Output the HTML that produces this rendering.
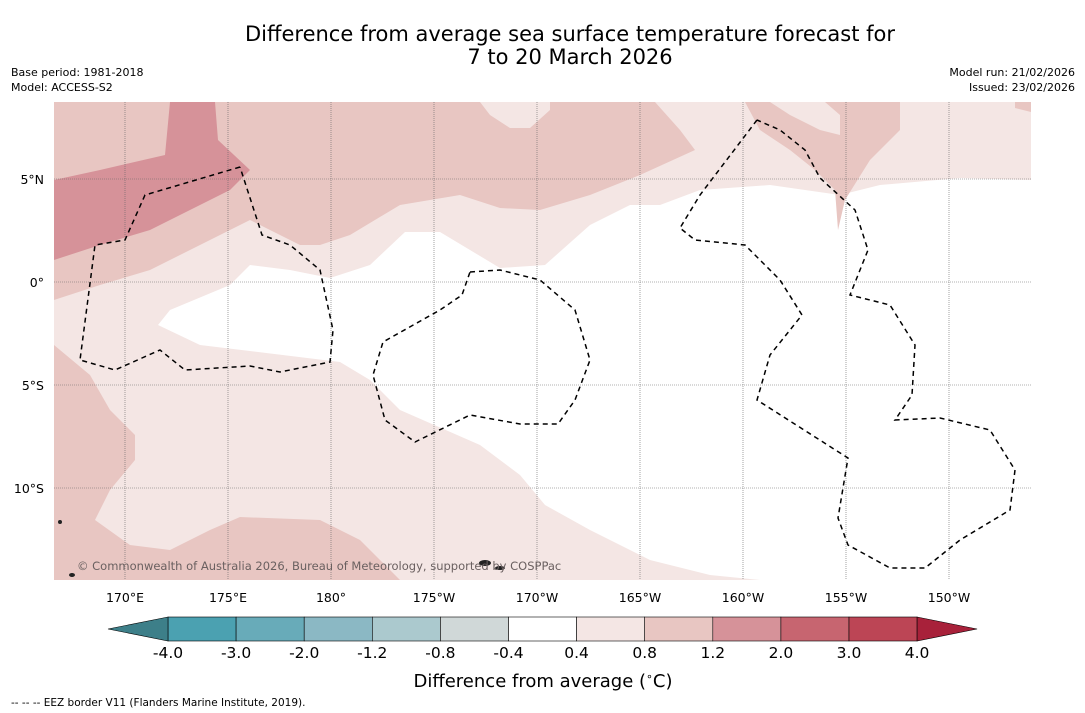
<!DOCTYPE html>
<html><head><meta charset="utf-8"><style>
body{margin:0;background:#fff;width:1085px;height:713px;overflow:hidden;font-family:"DejaVu Sans","Liberation Sans",sans-serif}
svg{position:absolute;left:0;top:0}
</style></head><body>
<svg width="1085" height="713">
<text x="570" y="41" font-size="21" text-anchor="middle">Difference from average sea surface temperature forecast for</text>
<text x="570" y="64" font-size="21" text-anchor="middle">7 to 20 March 2026</text>
<text x="11" y="76" font-size="11">Base period: 1981-2018</text>
<text x="11" y="91" font-size="11">Model: ACCESS-S2</text>
<text x="1075" y="76" font-size="11" text-anchor="end">Model run: 21/02/2026</text>
<text x="1075" y="91" font-size="11" text-anchor="end">Issued: 23/02/2026</text>
<defs><clipPath id="mc"><rect x="54" y="102" width="977" height="478"/></clipPath></defs>
<g clip-path="url(#mc)">
<rect x="54" y="102" width="977" height="478" fill="#f4e6e4"/>
<path fill="#fff" d="M1031,180 L960,178 880,185 840,195 770,185 700,190 660,205 630,205 590,225 545,265 500,268 440,232 405,232 370,265 330,278 290,270 250,265 230,285 170,310 158,325 200,345 340,362 370,380 400,410 480,445 520,475 545,505 590,530 650,560 710,575 760,580 1031,580Z"/>
<path fill="#e8c6c2" d="M54,102 L655,102 680,130 695,150 640,175 590,195 540,210 500,208 460,195 400,205 350,235 320,245 300,245 250,220 200,245 150,270 100,285 54,300Z"/>
<path fill="#f4e6e4" d="M480,102 L490,115 510,128 530,128 550,110 550,102Z"/>
<path fill="#e8c6c2" d="M745,102 L760,130 790,150 815,170 835,190 838,230 845,200 870,160 900,130 900,102Z"/>
<path fill="#f4e6e4" d="M770,102 L790,115 820,130 840,135 840,115 825,102Z"/>
<path fill="#e8c6c2" d="M1015,102 L1031,102 1031,112 1015,108Z"/>
<path fill="#e8c6c2" d="M54,345 L90,375 110,410 135,435 135,460 110,490 95,520 130,545 170,550 210,530 240,517 320,520 360,540 385,565 400,580 54,580Z"/>
<path fill="#d69299" d="M54,180 L100,170 165,155 170,102 215,102 218,140 250,170 230,190 190,210 150,230 100,245 54,260Z"/>
<g stroke="#666" stroke-width="0.6" stroke-dasharray="1,1">
<line x1="125" y1="102" x2="125" y2="580"/><line x1="228" y1="102" x2="228" y2="580"/><line x1="331" y1="102" x2="331" y2="580"/><line x1="434" y1="102" x2="434" y2="580"/><line x1="537" y1="102" x2="537" y2="580"/><line x1="640" y1="102" x2="640" y2="580"/><line x1="743" y1="102" x2="743" y2="580"/><line x1="846" y1="102" x2="846" y2="580"/><line x1="949" y1="102" x2="949" y2="580"/>
<line x1="54" y1="179" x2="1031" y2="179"/><line x1="54" y1="282" x2="1031" y2="282"/><line x1="54" y1="385" x2="1031" y2="385"/><line x1="54" y1="488" x2="1031" y2="488"/>
</g>
<g fill="none" stroke="#000" stroke-width="1.5" stroke-dasharray="5,4">
<path d="M240,167 L145,195 125,240 95,245 80,360 115,370 160,350 185,370 250,366 280,372 330,362 333,330 320,270 290,245 262,235 240,167"/>
<path d="M470,272 L500,270 540,280 575,310 590,360 575,400 558,424 520,424 470,415 415,442 385,420 373,375 383,342 440,310 462,295 470,272"/>
<path d="M757,120 L700,195 680,228 695,240 745,245 780,280 802,315 770,355 757,400 848,458 838,518 848,545 890,568 925,568 960,540 1010,510 1015,470 990,430 940,418 895,420 912,395 915,345 890,305 850,295 868,250 855,210 820,178 805,150 780,130 757,120"/>
</g>
<g fill="#222">
<ellipse cx="485" cy="563" rx="6" ry="3"/><ellipse cx="500" cy="568" rx="5" ry="2"/><ellipse cx="72" cy="575" rx="3" ry="2"/><ellipse cx="60" cy="522" rx="2" ry="2"/>
</g>
<text x="77" y="570" font-size="11.5" fill="#6a6060">© Commonwealth of Australia 2026, Bureau of Meteorology, supported by COSPPac</text>
</g>
<g font-size="12.5" text-anchor="end">
<text x="44" y="184">5°N</text><text x="44" y="287">0°</text><text x="44" y="390">5°S</text><text x="44" y="493">10°S</text>
</g>
<g font-size="12.5" text-anchor="middle">
<text x="125" y="602">170°E</text><text x="228" y="602">175°E</text><text x="331" y="602">180°</text><text x="434" y="602">175°W</text><text x="537" y="602">170°W</text><text x="640" y="602">165°W</text><text x="743" y="602">160°W</text><text x="846" y="602">155°W</text><text x="949" y="602">150°W</text>
</g>
<g id="cbar"></g>
<text x="543" y="687" font-size="18" text-anchor="middle">Difference from average (<tspan font-size="11" dy="-7">∘</tspan><tspan dy="7">C)</tspan></text>
<text x="11" y="706" font-size="10.5">-- -- -- EEZ border V11 (Flanders Marine Institute, 2019).</text>
</svg>
<script>
const levels=["-4.0","-3.0","-2.0","-1.2","-0.8","-0.4","0.4","0.8","1.2","2.0","3.0","4.0"];
const colors=["#4ba1b1","#68abb9","#8bb8c4","#abc9ce","#d0d8d8","#ffffff","#f4e6e4","#e8c6c2","#d69299","#c76570","#bc4555"];
const ns="http://www.w3.org/2000/svg";
const g=document.getElementById('cbar');
const x0=168,w=68.1,y0=617,h=24;
function mk(t,a){const e=document.createElementNS(ns,t);for(const k in a)e.setAttribute(k,a[k]);g.appendChild(e);return e;}
colors.forEach((c,i)=>{
const r=mk('rect',{x:x0+i*w,y:y0,width:w,height:h,fill:c,stroke:'#000','stroke-width':0.6});


});
const xe=x0+colors.length*w;
const lt=mk('polygon',{points:`${x0},${y0} ${x0-60},${y0+h/2} ${x0},${y0+h}`,fill:'#3d7f89',stroke:'#000','stroke-width':0.6});


const rt=mk('polygon',{points:`${xe},${y0} ${xe+60},${y0+h/2} ${xe},${y0+h}`,fill:'#a8213a',stroke:'#000','stroke-width':0.6});


levels.forEach((l,i)=>{
const t=mk('text',{x:x0+i*w,y:658,'font-size':15.5,'text-anchor':'middle'});
t.textContent=l;


});
</script>
</body></html>
